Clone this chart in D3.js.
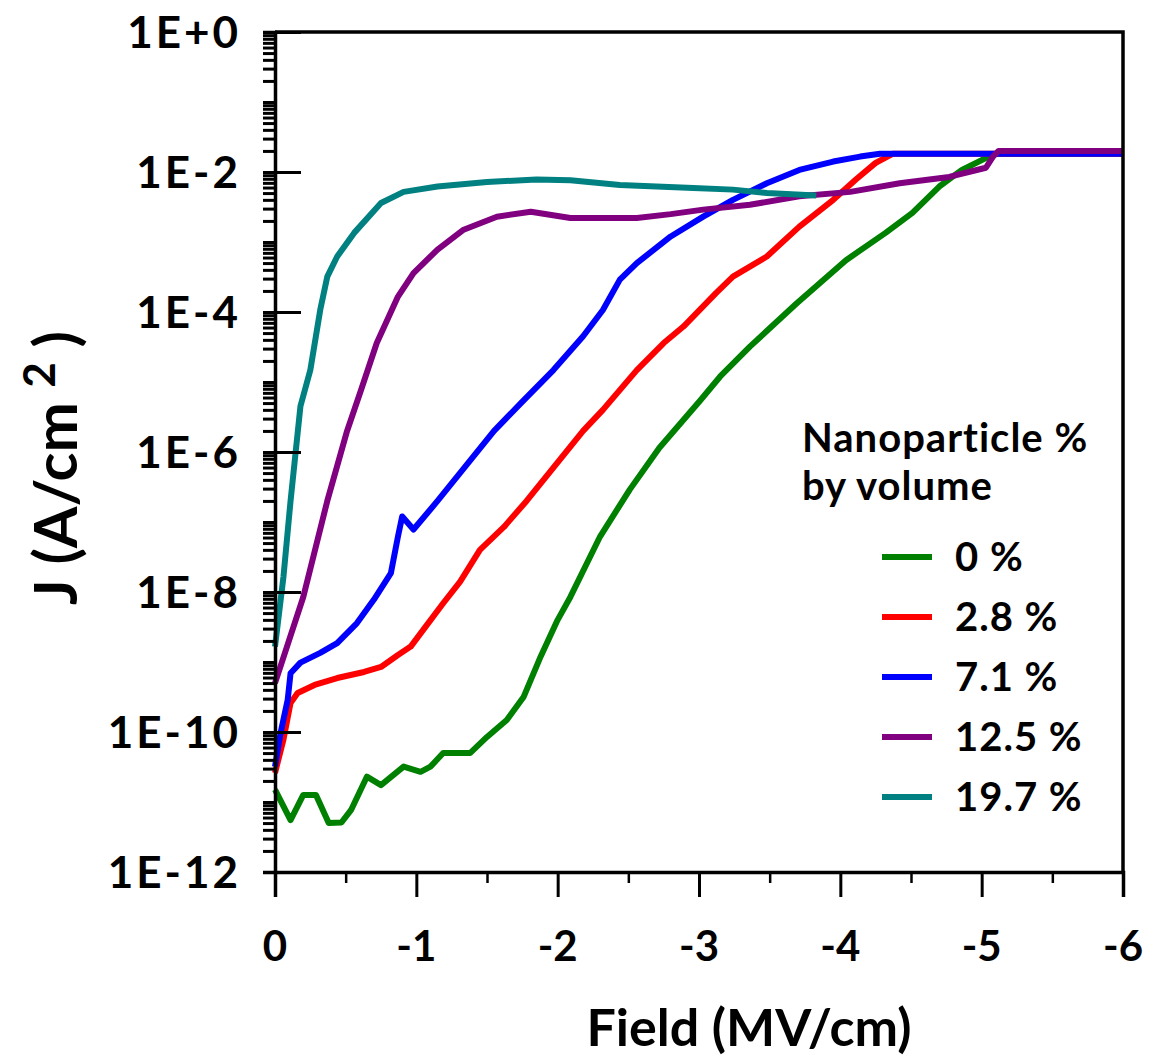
<!DOCTYPE html>
<html>
<head>
<meta charset="utf-8">
<script src="https://cdn.jsdelivr.net/npm/d3@7"></script>
<style>
  body { margin: 0; background: #fff; }
  svg text { font-family: Lato, "Open Sans", sans-serif; font-weight: bold; fill: #000; }
</style>
</head>
<body>
<div id="chart"></div>
<script>
var width = 1157, height = 1064;

// Field (MV/cm) and J (A/cm^2) for each nanoparticle loading
var seriesNames = ["0 %", "2.8 %", "7.1 %", "12.5 %", "19.7 %"];
var seriesColors = ["#008000", "#ff0000", "#0000ff", "#800080", "#008080"];

var field0 = [0, -0.11, -0.20, -0.29, -0.38, -0.47, -0.54, -0.65, -0.75, -0.91, -1.03, -1.10, -1.19, -1.38, -1.50, -1.64, -1.76, -1.88, -2.00, -2.09, -2.30, -2.51, -2.72, -3.01, -3.15, -3.36, -3.69, -4.04, -4.32, -4.51, -4.70, -4.86, -5.05, -5.10, -6.0];
var j0 = [1.5e-11, 5.5e-12, 1.26e-11, 1.26e-11, 5.0e-12, 5.1e-12, 7.8e-12, 2.3e-11, 1.74e-11, 3.2e-11, 2.7e-11, 3.2e-11, 5.0e-11, 5.0e-11, 8.5e-11, 1.48e-10, 3.2e-10, 1.2e-9, 4.0e-9, 8.5e-9, 6.2e-8, 2.9e-7, 1.15e-6, 5.5e-6, 1.2e-5, 3.2e-5, 1.32e-4, 5.5e-4, 1.35e-3, 2.6e-3, 6.2e-3, 1.07e-2, 1.66e-2, 1.82e-2, 1.82e-2];

var field28 = [0, -0.06, -0.11, -0.16, -0.28, -0.44, -0.63, -0.75, -0.87, -0.96, -1.05, -1.19, -1.31, -1.45, -1.62, -1.78, -2.18, -2.32, -2.56, -2.75, -2.89, -3.12, -3.24, -3.48, -3.71, -3.95, -4.11, -4.25, -4.37, -6.0];
var j28 = [2.6e-11, 7.8e-11, 2.6e-10, 3.6e-10, 4.7e-10, 5.9e-10, 7.2e-10, 8.5e-10, 1.26e-9, 1.66e-9, 2.9e-9, 6.9e-9, 1.41e-8, 4.0e-8, 8.5e-8, 2.0e-7, 2.0e-6, 4.0e-6, 1.48e-5, 3.6e-5, 6.2e-5, 1.86e-4, 3.2e-4, 6.2e-4, 1.66e-3, 4.0e-3, 7.8e-3, 1.35e-2, 1.82e-2, 1.82e-2];

var field71 = [0, -0.04, -0.09, -0.11, -0.18, -0.32, -0.44, -0.58, -0.70, -0.82, -0.87, -0.90, -0.98, -1.15, -1.55, -1.74, -1.97, -2.18, -2.32, -2.44, -2.56, -2.80, -3.03, -3.24, -3.48, -3.71, -3.95, -4.14, -4.28, -6.0];
var j71 = [3.2e-11, 9.8e-11, 2.9e-10, 6.9e-10, 9.8e-10, 1.35e-9, 1.86e-9, 3.6e-9, 7.8e-9, 1.86e-8, 6.2e-8, 1.2e-7, 7.8e-8, 2.0e-7, 2.0e-6, 5.0e-6, 1.48e-5, 4.5e-5, 1.07e-4, 2.9e-4, 5.0e-4, 1.2e-3, 2.3e-3, 4.0e-3, 6.9e-3, 1.07e-2, 1.41e-2, 1.66e-2, 1.82e-2, 1.82e-2];

var field125 = [0, -0.20, -0.37, -0.51, -0.61, -0.72, -0.87, -0.98, -1.15, -1.33, -1.57, -1.81, -2.09, -2.56, -2.80, -3.03, -3.36, -3.71, -4.07, -4.42, -4.77, -5.03, -5.08, -5.12, -6.0];
var j125 = [5.0e-10, 8.5e-9, 2.0e-7, 2.0e-6, 7.8e-6, 3.6e-5, 1.66e-4, 3.6e-4, 7.8e-4, 1.48e-3, 2.3e-3, 2.7e-3, 2.2e-3, 2.2e-3, 2.5e-3, 2.9e-3, 3.4e-3, 4.5e-3, 5.2e-3, 6.9e-3, 8.5e-3, 1.15e-2, 1.66e-2, 2.0e-2, 2.0e-2];

var field197 = [0, -0.06, -0.11, -0.18, -0.25, -0.32, -0.37, -0.44, -0.56, -0.75, -0.91, -1.15, -1.50, -1.85, -2.09, -2.44, -2.96, -3.24, -3.48, -3.83];
var j197 = [1.66e-9, 1.66e-8, 2.0e-7, 4.5e-6, 1.48e-5, 1.07e-4, 3.2e-4, 6.2e-4, 1.35e-3, 3.6e-3, 5.2e-3, 6.2e-3, 7.2e-3, 7.8e-3, 7.6e-3, 6.5e-3, 5.9e-3, 5.6e-3, 5.0e-3, 4.6e-3];

var xTicks = [0, -1, -2, -3, -4, -5, -6];
var xTickLabels = ["0", "-1", "-2", "-3", "-4", "-5", "-6"];
var yMajor = [1, 1e-2, 1e-4, 1e-6, 1e-8, 1e-10, 1e-12];
var yTickLabels = ["1E+0", "1E-2", "1E-4", "1E-6", "1E-8", "1E-10", "1E-12"];

var allFields = [field0, field28, field71, field125, field197];
var allJ = [j0, j28, j71, j125, j197];

var x = d3.scaleLinear().domain([0, -6]).range([275, 1123]);
var y = d3.scaleLog().domain([1e-12, 1]).range([872, 32]);

var svg = d3.select("#chart").append("svg")
    .attr("width", width)
    .attr("height", height);

// minor ticks for log axis: 1..9 x each decade
var yMinor = [];
for (var e = -12; e < 0; e++) {
  for (var k = 1; k < 10; k++) yMinor.push(k * Math.pow(10, e));
}
yMinor.push(1);

var lineGen = d3.line()
  .x(function(d) { return x(d[0]); })
  .y(function(d) { return y(d[1]); });

// curves
var plot = svg.append("g");
allFields.forEach(function(f, i) {
  var pts = f.map(function(v, j) { return [v, allJ[i][j]]; });
  plot.append("path")
    .datum(pts)
    .attr("fill", "none")
    .attr("stroke", seriesColors[i])
    .attr("stroke-width", 6)
    .attr("stroke-linejoin", "round")
    .attr("d", lineGen);
});

// frame
svg.append("path")
  .attr("d", "M" + x(0) + "," + y(1) + "H" + x(-6) + "V" + y(1e-12))
  .attr("fill", "none")
  .attr("stroke", "#000")
  .attr("stroke-width", 3.5);

// y axis outside ticks
var yAxis = d3.axisLeft(y)
  .tickValues(yMinor)
  .tickSize(12)
  .tickFormat("");
var gy = svg.append("g")
  .attr("transform", "translate(" + x(0) + ",0)")
  .call(yAxis);
gy.select(".domain").attr("stroke-width", 3.5);
gy.selectAll(".tick line").attr("stroke-width", 3);

// y major ticks inside
var gyIn = svg.append("g")
  .attr("transform", "translate(" + x(0) + ",0)")
  .call(d3.axisRight(y).tickValues(yMajor).tickSize(26).tickFormat(""));
gyIn.select(".domain").remove();
gyIn.selectAll(".tick line").attr("stroke-width", 3);

svg.selectAll(".ylab")
  .data(yMajor)
  .enter().append("text")
  .attr("class", "ylab")
  .attr("x", 241)
  .attr("y", function(d) { return y(d); })
  .attr("dy", "0.36em")
  .attr("text-anchor", "end")
  .style("font-size", "44px")
  .style("letter-spacing", "3px")
  .text(function(d, i) { return yTickLabels[i]; });

// x axis
var gx = svg.append("g")
  .attr("transform", "translate(0," + y(1e-12) + ")")
  .call(d3.axisBottom(x).tickValues(xTicks).tickSize(25).tickFormat(""));
gx.select(".domain").attr("stroke-width", 3.5);
gx.selectAll(".tick line").attr("stroke-width", 3);

var gxMinor = svg.append("g")
  .attr("transform", "translate(0," + y(1e-12) + ")")
  .call(d3.axisBottom(x).tickValues([-0.5, -1.5, -2.5, -3.5, -4.5, -5.5]).tickSize(11).tickFormat(""));
gxMinor.select(".domain").remove();
gxMinor.selectAll(".tick line").attr("stroke-width", 2.5);

svg.selectAll(".xlab")
  .data(xTicks)
  .enter().append("text")
  .attr("class", "xlab")
  .attr("x", function(d) { return x(d); })
  .attr("y", 961)
  .attr("text-anchor", "middle")
  .style("font-size", "42px")
  .text(function(d, i) { return xTickLabels[i]; });

// axis titles
svg.append("text")
  .attr("x", 749)
  .attr("y", 1046)
  .attr("text-anchor", "middle")
  .style("font-size", "52px")
  .text("Field (MV/cm)");

var yt = svg.append("text")
  .attr("transform", "translate(77,468) rotate(-90)")
  .attr("text-anchor", "middle")
  .style("font-size", "60px");
yt.append("tspan").text("J (A/cm ");
yt.append("tspan").attr("dy", -22).style("font-size", "44px").text("2");
yt.append("tspan").attr("dy", 22).text(" )");

// legend
svg.append("text").attr("x", 802).attr("y", 452).style("font-size", "40px").style("letter-spacing", "1px").text("Nanoparticle %");
svg.append("text").attr("x", 802).attr("y", 500).style("font-size", "40px").style("letter-spacing", "1px").text("by volume");

var legend = svg.selectAll(".leg")
  .data(seriesNames)
  .enter().append("g")
  .attr("class", "leg")
  .attr("transform", function(d, i) { return "translate(882," + (557 + i * 60) + ")"; });
legend.append("line")
  .attr("x1", 0).attr("x2", 50)
  .attr("stroke", function(d, i) { return seriesColors[i]; })
  .attr("stroke-width", 6);
legend.append("text")
  .attr("x", 73)
  .attr("dy", "0.36em")
  .style("font-size", "40px")
  .style("letter-spacing", "1px")
  .text(function(d) { return d; });
</script>
</body>
</html>
